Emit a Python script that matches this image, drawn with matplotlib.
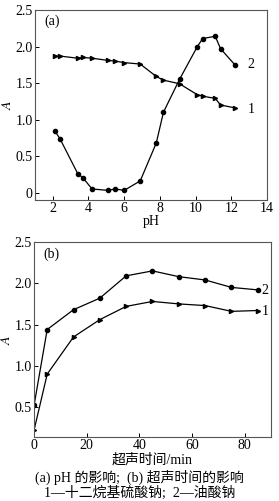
import matplotlib
matplotlib.use('Agg')
import matplotlib.pyplot as plt

plt.rcParams['font.family'] = ['Liberation Serif', 'Noto Sans CJK SC']
plt.rcParams['font.size'] = 10
plt.rcParams['mathtext.fontset'] = 'stix'
plt.rcParams['xtick.direction'] = 'in'
plt.rcParams['ytick.direction'] = 'in'

# (a) effect of pH
ph = [2.1, 2.4, 3.4, 3.7, 4.2, 5.1, 5.5, 6.0, 6.9, 7.8, 8.2, 9.1, 10.1, 10.4, 11.1, 11.4, 12.2]
a_sds = [1.87, 1.87, 1.84, 1.85, 1.84, 1.81, 1.80, 1.78, 1.76, 1.59, 1.54, 1.49, 1.34, 1.32, 1.29, 1.20, 1.16]
a_oleate = [0.85, 0.74, 0.26, 0.20, 0.05, 0.03, 0.05, 0.03, 0.16, 0.68, 1.10, 1.55, 2.00, 2.11, 2.14, 1.97, 1.75]

# (b) effect of ultrasonic time
t = [0, 5, 15, 25, 35, 45, 55, 65, 75, 85]
b_sds = [0.22, 0.90, 1.35, 1.56, 1.72, 1.78, 1.75, 1.73, 1.66, 1.67]
b_oleate = [0.52, 1.44, 1.68, 1.82, 2.09, 2.15, 2.08, 2.04, 1.95, 1.92]

fig = plt.figure(figsize=(2.79, 5.01), dpi=100)
ax1 = fig.add_axes([0.125, 0.601, 0.832, 0.379])
ax2 = fig.add_axes([0.122, 0.128, 0.849, 0.389])

for ax in (ax1, ax2):
    for s in ax.spines.values():
        s.set_color('#555555')
        s.set_linewidth(0.8)
    ax.tick_params(length=3, width=0.7, pad=1.5)

ax1.plot(ph, a_sds, '-', color='black', lw=0.9, marker='>', ms=3)
ax1.plot(ph, a_oleate, '-', color='black', lw=0.9, marker='o', ms=3)
ax1.set_xlim(1, 14)
ax1.set_ylim(-0.1, 2.5)
ax1.set_xticks([2, 4, 6, 8, 10, 12, 14])
ax1.set_yticks([0, 0.5, 1.0, 1.5, 2.0, 2.5])
ax1.set_yticklabels(['0', '0.5', '1.0', '1.5', '2.0', '2.5'])
ax1.set_xlabel('pH', labelpad=0)
ax1.set_ylabel('$A$', labelpad=1)
ax1.text(0.04, 0.92, '(a)', transform=ax1.transAxes)
ax1.text(12.9, 1.75, '2', va='center')
ax1.text(12.9, 1.14, '1', va='center')

ax2.plot(t, b_sds, '-', color='black', lw=0.9, marker='>', ms=3)
ax2.plot(t, b_oleate, '-', color='black', lw=0.9, marker='o', ms=3)
ax2.set_xlim(0, 90)
ax2.set_ylim(0.14, 2.5)
ax2.set_xticks([0, 20, 40, 60, 80])
ax2.set_yticks([0.5, 1.0, 1.5, 2.0, 2.5])
ax2.set_xlabel('超声时间/min', labelpad=1)
ax2.set_ylabel('$A$', labelpad=1)
ax2.text(0.04, 0.92, '(b)', transform=ax2.transAxes)
ax2.text(86.5, 1.91, '2', va='center')
ax2.text(86.5, 1.66, '1', va='center')

fig.text(0.5, 0.048, '(a) pH 的影响;  (b) 超声时间的影响', ha='center', va='center')
fig.text(0.5, 0.016, '1—十二烷基硫酸钠;  2—油酸钠', ha='center', va='center')

fig.savefig('out.png', dpi=100)
